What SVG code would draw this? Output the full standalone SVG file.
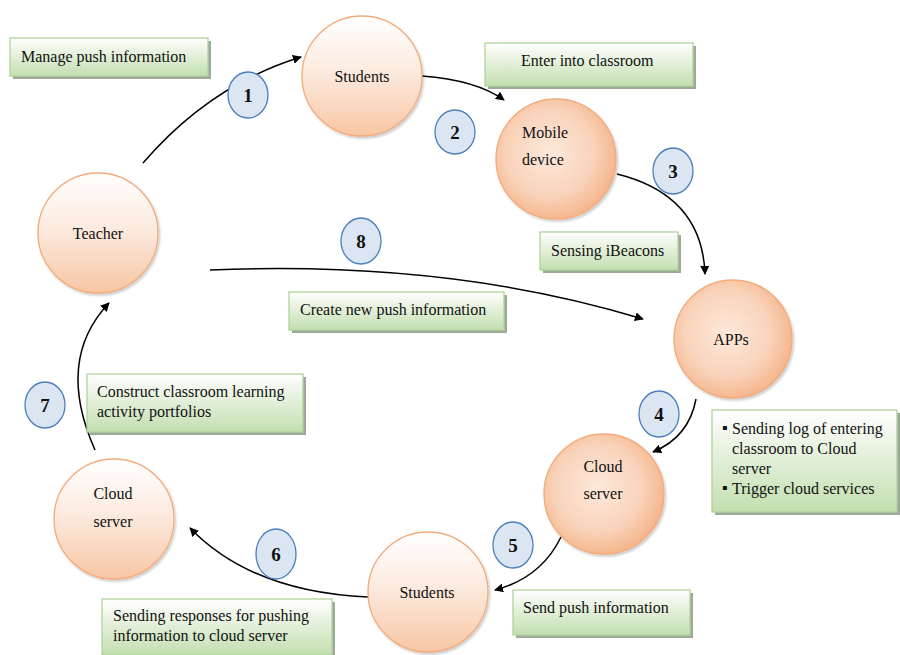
<svg xmlns="http://www.w3.org/2000/svg" width="900" height="655" viewBox="0 0 900 655">
<defs>
  <linearGradient id="gNode" x1="0" y1="0" x2="0" y2="1">
    <stop offset="0" stop-color="#ffffff"/>
    <stop offset="0.45" stop-color="#fcebe0"/>
    <stop offset="1" stop-color="#f7c6a3"/>
  </linearGradient>
  <radialGradient id="gNodeR" cx="0.45" cy="0.45" r="0.6">
    <stop offset="0" stop-color="#fde8db"/>
    <stop offset="0.6" stop-color="#f9d3ba"/>
    <stop offset="1" stop-color="#f4b184"/>
  </radialGradient>
  <linearGradient id="gBox" x1="0" y1="0" x2="0" y2="1">
    <stop offset="0" stop-color="#ffffff"/>
    <stop offset="1" stop-color="#c3deaf"/>
  </linearGradient>
  <filter id="sh" x="-20%" y="-20%" width="140%" height="140%">
    <feDropShadow dx="1.5" dy="2" stdDeviation="1.2" flood-color="#000" flood-opacity="0.2"/>
  </filter>
  <marker id="arr" viewBox="0 0 10 10" refX="9" refY="5" markerWidth="9" markerHeight="9" markerUnits="userSpaceOnUse" orient="auto">
    <path d="M0,0 L10,5 L0,10 z" fill="#000"/>
  </marker>
  <style>
    .node circle { stroke: #f2ab7c; stroke-width: 1.3; filter: url(#sh); }
    .lin { fill: url(#gNode); }
    .rad { fill: url(#gNodeR); }
    .t { font-family: "Liberation Serif", "Times New Roman", serif; font-size: 16px; fill: #111; }
    .c { text-anchor: middle; }
    .badge ellipse { fill: #dce6f2; stroke: #4a7ebb; stroke-width: 1.3; }
    .badge text { font-family: "Liberation Serif", "Times New Roman", serif; font-size: 19px; font-weight: bold; fill: #111; text-anchor: middle; }
    .box .shadow { fill: #9fa99a; }
    .box .face { fill: url(#gBox); stroke: #b0d49a; stroke-width: 1.3; }
    .conn path { fill: none; stroke: #000; stroke-width: 1.5; marker-end: url(#arr); }
  </style>
</defs>
<rect width="900" height="655" fill="#fff"/>

<g id="connectors" class="conn">
  <path d="M143,163 Q210,85 301,57"/>
  <path d="M422,76 Q476,80 504,100"/>
  <path d="M617,174 Q702,195 705,274"/>
  <path d="M696,399 Q689,437 653,452"/>
  <path d="M561,537 Q541,578 495,590"/>
  <path d="M368,597 Q252,592 190,528"/>
  <path d="M95,450 Q55,360 109,303"/>
  <path d="M210,270 Q450,260 643,319"/>
</g>

<g id="node-students-top" class="node">
  <circle class="lin" cx="362" cy="76" r="60"/>
  <text class="t c" x="362" y="82">Students</text>
</g>
<g id="node-mobile" class="node">
  <circle class="rad" cx="556" cy="159" r="60"/>
  <text class="t" x="522" y="138">Mobile</text>
  <text class="t" x="522" y="165">device</text>
</g>
<g id="node-teacher" class="node">
  <circle class="lin" cx="98" cy="233" r="60"/>
  <text class="t c" x="98" y="239">Teacher</text>
</g>
<g id="node-apps" class="node">
  <circle class="rad" cx="733" cy="339" r="59"/>
  <text class="t c" x="731" y="345">APPs</text>
</g>
<g id="node-cloud-right" class="node">
  <circle class="rad" cx="604" cy="494" r="60"/>
  <text class="t c" x="603" y="472">Cloud</text>
  <text class="t c" x="603" y="499">server</text>
</g>
<g id="node-students-bottom" class="node">
  <circle class="lin" cx="428" cy="592" r="60"/>
  <text class="t c" x="427" y="598">Students</text>
</g>
<g id="node-cloud-left" class="node">
  <circle class="lin" cx="114" cy="519" r="60"/>
  <text class="t c" x="113" y="499">Cloud</text>
  <text class="t c" x="113" y="527">server</text>
</g>

<g id="badge-1" class="badge"><ellipse cx="248" cy="95" rx="20" ry="23"/><text x="248" y="102">1</text></g>
<g id="badge-2" class="badge"><ellipse cx="455" cy="132" rx="20" ry="22"/><text x="455" y="139">2</text></g>
<g id="badge-3" class="badge"><ellipse cx="673" cy="171" rx="20" ry="23"/><text x="673" y="178">3</text></g>
<g id="badge-4" class="badge"><ellipse cx="659" cy="414" rx="20" ry="23"/><text x="659" y="421">4</text></g>
<g id="badge-5" class="badge"><ellipse cx="513" cy="545" rx="20" ry="23"/><text x="513" y="552">5</text></g>
<g id="badge-6" class="badge"><ellipse cx="276" cy="554" rx="20" ry="25"/><text x="276" y="561">6</text></g>
<g id="badge-7" class="badge"><ellipse cx="45" cy="405" rx="20" ry="23"/><text x="45" y="412">7</text></g>
<g id="badge-8" class="badge"><ellipse cx="361" cy="241" rx="20" ry="23"/><text x="361" y="248">8</text></g>

<g id="box-manage" class="box">
  <rect class="shadow" x="13" y="41" width="198" height="38"/>
  <rect class="face" x="10" y="38" width="198" height="38"/>
  <text class="t" x="21" y="62">Manage push information</text>
</g>
<g id="box-enter" class="box">
  <rect class="shadow" x="488" y="46" width="208" height="43"/>
  <rect class="face" x="485" y="43" width="208" height="43"/>
  <text class="t" x="521" y="66">Enter into classroom</text>
</g>
<g id="box-sensing" class="box">
  <rect class="shadow" x="543" y="235" width="138" height="38"/>
  <rect class="face" x="540" y="232" width="138" height="38"/>
  <text class="t" x="551" y="256">Sensing iBeacons</text>
</g>
<g id="box-create" class="box">
  <rect class="shadow" x="292" y="295" width="215" height="38"/>
  <rect class="face" x="289" y="292" width="215" height="38"/>
  <text class="t" x="300" y="315">Create new push information</text>
</g>
<g id="box-sending-log" class="box">
  <rect class="shadow" x="715" y="413" width="185" height="102"/>
  <rect class="face" x="712" y="410" width="185" height="102"/>
  <text class="t" x="722" y="433" font-size="10">▪</text>
  <text class="t" x="732" y="434">Sending log of entering</text>
  <text class="t" x="732" y="454">classroom to Cloud</text>
  <text class="t" x="732" y="474">server</text>
  <text class="t" x="722" y="493" font-size="10">▪</text>
  <text class="t" x="732" y="494">Trigger cloud services</text>
</g>
<g id="box-construct" class="box">
  <rect class="shadow" x="90" y="377" width="216" height="58"/>
  <rect class="face" x="87" y="374" width="216" height="58"/>
  <text class="t" x="97" y="397">Construct classroom learning</text>
  <text class="t" x="97" y="417">activity portfolios</text>
</g>
<g id="box-responses" class="box">
  <rect class="shadow" x="105" y="602" width="230" height="55"/>
  <rect class="face" x="102" y="599" width="230" height="56"/>
  <text class="t" x="113" y="621">Sending responses for pushing</text>
  <text class="t" x="113" y="641">information to cloud server</text>
</g>
<g id="box-send-push" class="box">
  <rect class="shadow" x="516" y="593" width="177" height="45"/>
  <rect class="face" x="513" y="590" width="177" height="45"/>
  <text class="t" x="523" y="613">Send push information</text>
</g>
</svg>
